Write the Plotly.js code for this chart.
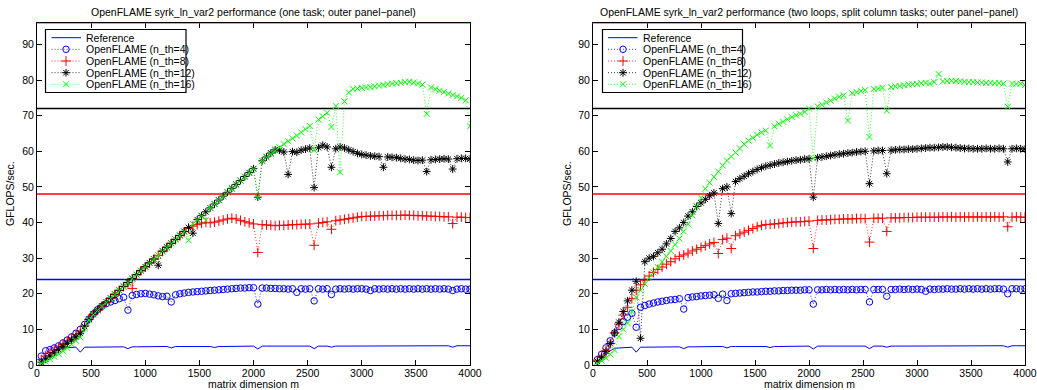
<!DOCTYPE html>
<html><head><meta charset="utf-8">
<script src="https://cdn.plot.ly/plotly-3.0.1.min.js"></script>
<style>html,body{margin:0;padding:0;background:#fff}#chart{width:1037px;height:390px}</style>
</head><body><div id="chart"></div>
<script>
// ---------------- DATA ----------------
const M = [40,80,120,160,200,240,280,320,360,400,
  440,480,520,560,600,640,680,720,760,800,
  840,880,920,960,1000,1040,1080,1120,1160,1200,
  1240,1280,1320,1360,1400,1440,1480,1520,1560,1600,
  1640,1680,1720,1760,1800,1840,1880,1920,1960,2000,
  2040,2080,2120,2160,2200,2240,2280,2320,2360,2400,
  2440,2480,2520,2560,2600,2640,2680,2720,2760,2800,
  2840,2880,2920,2960,3000,3040,3080,3120,3160,3200,
  3240,3280,3320,3360,3400,3440,3480,3520,3560,3600,
  3640,3680,3720,3760,3800,3840,3880,3920,3960,4000];

// single-thread reference (same in both panels)
const REF1 = [1.0,2.0,3.0,4.0,4.7,4.8,4.9,4.9,5.0,3.6,
  5.0,5.0,5.0,5.0,5.0,5.0,5.0,5.1,5.1,5.1,
  4.6,5.1,5.1,5.1,5.1,5.1,5.1,5.1,5.1,5.2,
  4.8,5.2,5.2,5.2,5.2,5.2,5.2,5.2,5.2,5.2,
  4.9,5.2,5.2,5.2,5.2,5.2,5.3,5.3,5.3,5.3,
  4.5,5.3,5.3,5.3,5.3,5.3,5.3,5.3,5.3,5.3,
  5.3,5.3,5.3,4.6,5.3,5.3,5.3,5.0,5.3,5.3,
  5.3,5.3,5.3,5.3,5.3,5.3,5.3,5.3,5.3,5.3,
  5.4,5.4,5.4,5.4,5.4,5.4,5.4,5.4,5.4,5.4,
  5.4,5.4,5.4,5.4,5.4,5.0,5.4,5.4,5.4,5.4];

// peak reference levels
const PEAKS = [24, 48, 72, 96];

// left panel: one task
const L_NTH4 = [2.5,4.0,4.3,4.8,5.4,6.2,7.0,7.9,8.9,10.0,
  11.4,12.9,14.3,15.5,16.5,17.2,17.7,18.1,18.6,19.0,
  15.4,19.5,19.8,20.0,20.1,19.9,19.7,19.4,19.2,19.3,
  17.7,19.7,20.0,20.2,20.4,20.5,20.6,20.7,20.8,20.9,
  21.0,21.1,21.2,21.3,21.4,21.5,21.6,21.6,21.7,21.7,
  17.1,21.6,21.6,21.5,21.5,21.4,21.4,21.3,21.4,20.4,
  21.4,21.3,21.4,18.0,21.4,21.3,21.4,19.8,21.3,21.4,
  21.3,21.4,21.3,21.4,21.4,21.3,20.9,21.4,21.3,21.4,
  21.3,21.4,21.3,21.4,21.3,21.4,21.3,21.4,21.3,21.4,
  21.3,21.4,21.3,21.4,21.3,20.9,21.3,21.4,21.3,21.3];
const L_NTH8 = [1.5,2.5,3.4,4.2,5.0,5.8,6.7,7.6,8.5,9.5,
  11.0,12.8,14.2,15.4,16.5,17.6,18.7,19.8,20.9,22.0,
  23.1,21.5,25.3,26.4,27.5,28.6,29.7,30.8,31.9,33.0,
  34.1,35.2,36.3,37.4,38.3,39.0,39.4,39.8,40.0,39.9,
  40.1,40.4,40.7,41.0,41.2,41.0,40.6,40.2,39.9,39.6,
  31.6,39.4,39.3,39.2,39.1,39.2,39.2,39.3,39.4,39.4,
  39.5,39.5,39.6,33.6,39.8,40.0,40.2,38.1,40.5,40.7,
  40.9,41.1,41.3,41.5,41.7,41.7,41.8,41.8,41.9,41.9,
  42.0,42.0,42.0,42.0,42.1,42.0,42.0,41.9,41.9,41.8,
  41.8,41.7,41.7,41.6,41.6,39.7,41.5,41.5,41.4,41.4];
const L_NTH12 = [0.8,1.6,2.5,3.4,4.3,5.2,6.1,7.0,7.9,8.9,
  10.8,12.8,14.3,15.5,16.6,17.7,18.8,19.9,21.0,22.1,
  23.2,24.3,25.4,26.5,27.6,28.7,29.8,28.0,32.0,33.1,
  34.2,35.3,36.4,37.5,38.6,37.0,40.8,41.9,43.0,44.1,
  45.2,46.3,47.4,48.5,49.6,50.7,51.8,52.9,54.0,55.1,
  47.1,57.3,58.4,59.5,60.4,60.3,59.8,53.5,59.9,59.7,
  60.3,60.6,60.9,49.8,61.0,61.7,61.2,55.5,60.7,61.2,
  60.9,60.4,59.9,59.4,59.1,58.9,58.7,58.6,58.5,55.5,
  58.4,58.3,58.2,58.0,57.8,57.7,57.5,57.4,57.5,54.3,
  57.6,57.7,57.8,57.9,57.8,55.0,57.9,58.0,58.0,57.8];
const L_NTH16 = [0.5,1.0,1.6,2.3,3.1,3.9,4.8,5.8,6.8,7.8,
  10.3,12.6,14.1,15.3,16.5,17.6,18.7,19.8,20.9,22.0,
  23.1,24.2,25.3,26.4,27.5,28.6,29.7,30.8,31.9,33.0,
  34.1,35.2,36.3,37.4,35.0,39.6,40.7,41.8,40.6,44.0,
  45.1,46.2,47.3,48.4,49.5,50.6,51.7,52.8,53.9,55.0,
  47.1,57.2,58.3,59.3,60.2,61.1,62.0,62.8,63.6,64.4,
  65.3,66.2,67.1,60.3,68.9,69.8,70.8,66.8,72.7,54.1,
  74.0,76.5,77.5,77.6,77.8,77.9,78.0,78.2,78.4,78.6,
  78.8,79.0,79.1,79.2,79.4,79.5,79.3,79.0,78.7,70.5,
  77.9,77.4,77.0,76.6,76.2,75.8,75.4,75.0,74.3,67.0];

// right panel: two loops, split column tasks
const R_NTH4 = [1.5,3.0,4.8,6.8,9.0,10.8,12.2,13.4,14.5,10.6,
  16.2,16.7,17.1,17.4,17.7,17.9,18.1,18.3,18.4,18.6,
  15.7,18.9,19.1,19.2,19.4,19.5,19.6,19.7,18.7,19.9,
  18.1,20.0,20.1,20.2,20.3,20.4,20.5,20.5,20.6,20.7,
  20.7,20.8,20.8,20.9,20.9,21.0,21.0,21.0,21.1,21.1,
  17.1,21.1,21.1,21.2,21.1,21.2,21.1,21.2,21.1,21.2,
  21.1,21.2,21.2,17.7,21.2,21.2,21.2,19.3,21.2,21.2,
  21.3,21.2,21.3,21.2,21.3,21.2,20.7,21.3,21.2,21.3,
  21.3,21.4,21.3,21.3,21.4,21.3,21.4,21.3,21.4,21.3,
  21.4,21.3,21.4,21.4,21.3,20.0,21.4,21.4,21.3,21.4];
const R_NTH8 = [1.2,2.5,4.0,6.0,9.0,11.5,14.0,16.2,18.6,21.0,
  22.5,23.8,25.0,26.0,26.8,27.5,28.3,29.0,29.8,30.5,
  30.9,31.4,32.0,32.5,33.0,33.5,34.0,34.4,31.3,35.2,
  35.6,32.7,36.3,36.8,37.3,37.8,38.3,38.8,39.2,39.4,
  39.5,39.6,39.7,39.9,40.0,40.1,40.2,40.2,40.3,40.4,
  32.7,40.6,40.7,40.7,40.8,40.9,40.9,41.0,41.0,41.0,
  41.1,41.1,41.1,34.5,41.2,41.2,41.2,37.5,41.3,41.3,
  41.3,41.4,41.4,41.4,41.5,41.5,41.5,41.5,41.5,41.5,
  41.6,41.5,41.6,41.5,41.6,41.5,41.6,41.5,41.6,41.5,
  41.6,41.5,41.6,41.5,41.6,38.8,41.5,41.6,41.5,41.5];
const R_NTH12 = [1.0,2.2,3.8,6.0,9.0,12.0,15.0,18.0,21.0,23.5,
  7.5,29.0,30.0,30.5,31.5,32.5,34.0,35.5,37.5,38.5,
  40.0,41.8,43.0,44.5,45.5,46.5,47.5,48.3,39.7,49.5,
  50.0,42.5,51.5,52.3,53.0,53.7,54.3,54.9,55.4,55.8,
  56.1,56.4,56.7,56.9,57.1,57.3,57.5,57.6,57.8,57.9,
  47.1,58.2,58.4,58.6,58.8,59.0,59.2,59.3,59.5,59.6,
  59.8,59.9,60.0,50.9,60.1,60.2,60.2,53.7,60.3,60.4,
  60.5,60.5,60.6,60.6,60.7,60.8,60.9,61.0,61.0,61.1,
  61.2,61.2,61.1,61.0,60.9,60.8,60.8,60.7,60.7,60.7,
  60.8,60.7,60.7,60.8,60.7,57.0,60.7,60.8,60.7,60.6];
const R_NTH16 = [0.5,1.2,2.0,3.0,4.2,8.0,10.0,11.8,15.0,19.0,
  21.0,22.8,24.5,26.0,27.5,29.0,30.5,32.0,33.8,35.5,
  37.5,39.5,42.0,44.5,47.0,49.5,51.2,52.8,54.3,56.0,
  57.4,58.5,59.6,60.8,62.0,63.0,63.8,64.6,65.3,65.8,
  61.6,67.0,67.7,68.3,69.0,69.6,70.1,70.5,71.0,72.0,
  58.0,72.6,73.1,73.7,74.2,74.8,75.3,75.7,68.6,76.3,
  76.6,76.9,77.2,64.0,77.5,77.6,77.8,71.4,78.0,78.2,
  78.3,78.5,78.7,78.8,78.9,79.1,79.2,79.0,79.4,81.7,
  79.6,79.7,79.8,79.7,79.6,79.5,79.4,79.4,79.3,79.3,
  79.2,79.2,79.1,79.1,79.0,72.5,79.0,78.9,79.0,78.6];

const X_TICKS = [0,500,1000,1500,2000,2500,3000,3500,4000];
const Y_TICKS = [0,10,20,30,40,50,60,70,80,90];
const TITLES = ['OpenFLAME syrk_ln_var2 performance (one task; outer panel\u2212panel)',
                'OpenFLAME syrk_ln_var2 performance (two loops, split column tasks; outer panel\u2212panel)'];
const X_LABEL = 'matrix dimension m';
const Y_LABEL = 'GFLOPS/sec.';
const LEGEND_LABELS = ['Reference','OpenFLAME (n_th=4)','OpenFLAME (n_th=8)','OpenFLAME (n_th=12)','OpenFLAME (n_th=16)'];

// ---------------- STYLE ----------------
const FONT = 'Liberation Sans, Arial, Helvetica, sans-serif';
const FS = 10.5;
const W = 1037, H = 390;
const XMAX = 4000, YMAX = 96;
const PANELS = [{x0:37, x1:470, ylabx:10, xa:'x', ya:'y', data:[L_NTH4,L_NTH8,L_NTH12,L_NTH16],
                 leg:{bx0:45.5, bx1:186, lx0:51.5, lx1:81, mx:66, tx:84}},
                {x0:593, x1:1025, ylabx:567, xa:'x2', ya:'y2', data:[R_NTH4,R_NTH8,R_NTH12,R_NTH16],
                 leg:{bx0:602.5, bx1:742.5, lx0:608, lx1:637.5, mx:623, tx:640.5}}];
const PTOP = 23, PBOT = 365;
const LEG_TOP = 29.5, LEG_BOT = 92.5, LEG_ROWS = [37.7, 49.3, 61.0, 72.7, 84.3];
const PEAK_COLORS = ['#0000ff','#ff0000','#000000','#00ff00'];
const STY = [
  {color:'#0000ff', symbol:'circle-open', size:6.5},
  {color:'#ff0000', symbol:'cross-thin-open', size:7},
  {color:'#000000', symbol:'asterisk-open', size:6.5},
  {color:'#00ff00', symbol:'x-thin-open', size:6}];
const DOTS = '1px,2px';

const traces = [];
const shapes = [];
const annotations = [];
const txt = (t, extra) => Object.assign({text:t, showarrow:false,
  font:{family:FONT, size:FS, color:'#000'}}, extra);

PANELS.forEach((p, pi) => {
  PEAKS.forEach((v, k) => {
    traces.push({x:[0, XMAX], y:[v, v], xaxis:p.xa, yaxis:p.ya, mode:'lines', name:'peak'+v,
      line:{color:PEAK_COLORS[k], width:1.4}, hoverinfo:'skip', showlegend:false});
  });
  traces.push({x:M, y:REF1, xaxis:p.xa, yaxis:p.ya, mode:'lines',
    line:{color:'#0000ff', width:1}, showlegend:false});
  p.data.forEach((ys, k) => {
    const s = STY[k];
    traces.push({x:M, y:ys, xaxis:p.xa, yaxis:p.ya, mode:'lines+markers',
      line:{color:s.color, width:0.8, dash:DOTS},
      marker:{symbol:s.symbol, size:s.size, color:s.color, line:{color:s.color, width:1}},
      showlegend:false});
  });
  const cx = ((p.x0 + p.x1) / 2) / W;
  annotations.push(txt(TITLES[pi], {xref:'paper', yref:'paper', x:cx, y:1-12/H, xanchor:'center', yanchor:'middle'}));
  annotations.push(txt(X_LABEL, {xref:'paper', yref:'paper', x:cx, y:1-384/H, xanchor:'center', yanchor:'middle'}));
  annotations.push(txt(Y_LABEL, {xref:'paper', yref:'paper', x:p.ylabx/W, y:1-((PTOP+PBOT)/2)/H,
    xanchor:'center', yanchor:'middle', textangle:-90}));
  // custom legend (pixel coords on hidden axes x3/y3)
  const L = p.leg;
  shapes.push({type:'rect', xref:'x3', yref:'y3', x0:L.bx0, x1:L.bx1, y0:LEG_TOP, y1:LEG_BOT,
    line:{color:'#000', width:1.2}, fillcolor:'#fff', layer:'below'});
  LEGEND_LABELS.forEach((lab, i) => {
    const ry = LEG_ROWS[i];
    if (i === 0) {
      traces.push({x:[L.lx0, L.lx1], y:[ry, ry], xaxis:'x3', yaxis:'y3', mode:'lines',
        line:{color:'#0000ff', width:1}, hoverinfo:'skip', showlegend:false});
    } else {
      const s = STY[i-1];
      traces.push({x:[L.lx0, L.mx, L.lx1], y:[ry, ry, ry], xaxis:'x3', yaxis:'y3', mode:'lines+markers',
        line:{color:s.color, width:0.8, dash:DOTS},
        marker:{symbol:s.symbol, size:s.size, color:s.color, opacity:[0,1,0], line:{color:s.color, width:1}},
        hoverinfo:'skip', showlegend:false});
    }
    annotations.push(txt(lab, {xref:'x3', yref:'y3', x:L.tx, y:ry, xanchor:'left', yanchor:'middle'}));
  });
});

function xaxis(p){
  return {domain:[p.x0/W, p.x1/W], range:[0, XMAX], tickvals:X_TICKS, ticks:'inside', ticklen:5,
    tickcolor:'#000', showline:true, linecolor:'#000', linewidth:1, mirror:'ticks', showgrid:false,
    zeroline:false, tickfont:{family:FONT, size:FS, color:'#000'}, anchor:p.ya,
    ticklabelstandoff:-2, ticklabeloverflow:'allow', fixedrange:true};
}
function yaxis(p){
  return {domain:[1-PBOT/H, 1-PTOP/H], range:[0, YMAX], tickvals:Y_TICKS, ticks:'inside', ticklen:5,
    tickcolor:'#000', showline:true, linecolor:'#000', linewidth:1, mirror:'ticks', showgrid:false,
    zeroline:false, tickfont:{family:FONT, size:FS, color:'#000'}, anchor:p.xa,
    ticklabeloverflow:'allow', fixedrange:true};
}

const layout = {
  width:W, height:H, margin:{l:0, r:0, t:0, b:0}, paper_bgcolor:'#fff', plot_bgcolor:'rgba(0,0,0,0)',
  showlegend:false,
  xaxis:xaxis(PANELS[0]), yaxis:yaxis(PANELS[0]),
  xaxis2:xaxis(PANELS[1]), yaxis2:yaxis(PANELS[1]),
  xaxis3:{domain:[0,1], range:[0,W], visible:false, fixedrange:true, anchor:'y3'},
  yaxis3:{domain:[0,1], range:[H,0], visible:false, fixedrange:true, anchor:'x3'},
  shapes, annotations
};

Plotly.newPlot('chart', traces, layout, {displayModeBar:false, staticPlot:true});
</script></body></html>
